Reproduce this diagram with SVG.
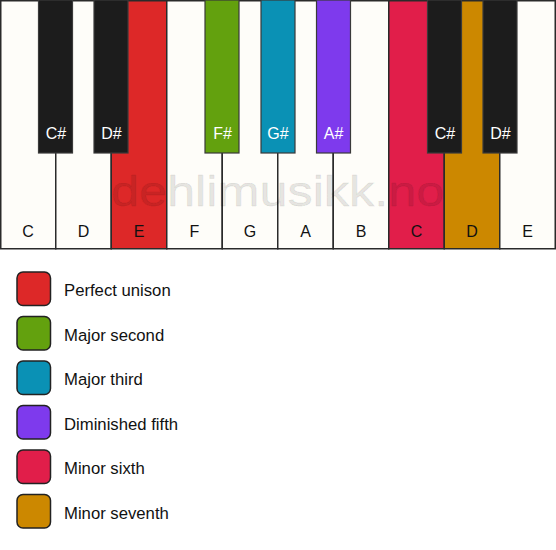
<svg xmlns="http://www.w3.org/2000/svg" width="556" height="550" viewBox="0 0 556 550">
<style>
.w{stroke:#2a2a2a;stroke-width:1.5}
.b{stroke:#3a3a3a;stroke-width:1.2}
.lw{font-family:"Liberation Sans",Arial,sans-serif;font-size:16px;fill:#111;text-anchor:middle}
.lb{font-family:"Liberation Sans",Arial,sans-serif;font-size:16px;fill:#fff;text-anchor:middle}
.lg{stroke:#222;stroke-width:1.5}
.lt{font-family:"Liberation Sans",Arial,sans-serif;font-size:16.7px;fill:#111}
</style>
<rect x="0" y="0" width="556" height="550" fill="#fff"/>
<g id="white-keys">
<g id="key-C1"><rect class="w" x="0.75" y="0.75" width="55" height="248" fill="#fefdf9"/><text class="lw" x="28" y="237">C</text></g>
<g id="key-D1"><rect class="w" x="55.75" y="0.75" width="55.5" height="248" fill="#fefdf9"/><text class="lw" x="83.5" y="237">D</text></g>
<g id="key-E1"><rect class="w" x="111.25" y="0.75" width="55.5" height="248" fill="#dd2828"/><text class="lw" x="139" y="237">E</text></g>
<g id="key-F1"><rect class="w" x="166.75" y="0.75" width="55.5" height="248" fill="#fefdf9"/><text class="lw" x="194.5" y="237">F</text></g>
<g id="key-G1"><rect class="w" x="222.25" y="0.75" width="55.5" height="248" fill="#fefdf9"/><text class="lw" x="250" y="237">G</text></g>
<g id="key-A1"><rect class="w" x="277.75" y="0.75" width="55.5" height="248" fill="#fefdf9"/><text class="lw" x="305.5" y="237">A</text></g>
<g id="key-B1"><rect class="w" x="333.25" y="0.75" width="55.5" height="248" fill="#fefdf9"/><text class="lw" x="361" y="237">B</text></g>
<g id="key-C2"><rect class="w" x="388.75" y="0.75" width="55.5" height="248" fill="#e11e4a"/><text class="lw" x="416.5" y="237">C</text></g>
<g id="key-D2"><rect class="w" x="444.25" y="0.75" width="55.5" height="248" fill="#cc8800"/><text class="lw" x="472" y="237">D</text></g>
<g id="key-E2"><rect class="w" x="499.75" y="0.75" width="55.5" height="248" fill="#fefdf9"/><text class="lw" x="527.5" y="237">E</text></g>
</g>
<g id="black-keys">
<g id="key-Cs1"><rect class="b" x="38.5" y="0" width="34" height="153" fill="#1c1c1c"/><text class="lb" x="56" y="139">C#</text></g>
<g id="key-Ds1"><rect class="b" x="94" y="0" width="34" height="153" fill="#1c1c1c"/><text class="lb" x="111.5" y="139">D#</text></g>
<g id="key-Fs1"><rect class="b" x="205" y="0" width="34" height="153" fill="#63a10e"/><text class="lb" x="222.5" y="139">F#</text></g>
<g id="key-Gs1"><rect class="b" x="261" y="0" width="34" height="153" fill="#0a91b5"/><text class="lb" x="278" y="139">G#</text></g>
<g id="key-As1"><rect class="b" x="316.5" y="0" width="34" height="153" fill="#7e3aed"/><text class="lb" x="333.5" y="139">A#</text></g>
<g id="key-Cs2"><rect class="b" x="427.5" y="0" width="34" height="153" fill="#1c1c1c"/><text class="lb" x="445" y="139">C#</text></g>
<g id="key-Ds2"><rect class="b" x="483" y="0" width="34" height="153" fill="#1c1c1c"/><text class="lb" x="500.5" y="139">D#</text></g>
</g>
<text id="watermark" transform="translate(111,206) scale(1.2,1)" x="0" y="0" font-family="Liberation Sans,Arial,sans-serif" font-size="42" fill="#000" fill-opacity="0.11" stroke="#000" stroke-opacity="0.06" stroke-width="1.2">dehlimusikk.no</text>
<g id="legend">
<g id="leg-1"><rect class="lg" x="17" y="272" width="33.5" height="33.5" rx="6" fill="#dd2828"/><text class="lt" x="64" y="296">Perfect unison</text></g>
<g id="leg-2"><rect class="lg" x="17" y="316.5" width="33.5" height="33.5" rx="6" fill="#63a10e"/><text class="lt" x="64" y="340.5">Major second</text></g>
<g id="leg-3"><rect class="lg" x="17" y="361" width="33.5" height="33.5" rx="6" fill="#0a91b5"/><text class="lt" x="64" y="385">Major third</text></g>
<g id="leg-4"><rect class="lg" x="17" y="405.5" width="33.5" height="33.5" rx="6" fill="#7e3aed"/><text class="lt" x="64" y="429.5">Diminished fifth</text></g>
<g id="leg-5"><rect class="lg" x="17" y="450" width="33.5" height="33.5" rx="6" fill="#e11e4a"/><text class="lt" x="64" y="474">Minor sixth</text></g>
<g id="leg-6"><rect class="lg" x="17" y="494.5" width="33.5" height="33.5" rx="6" fill="#cc8800"/><text class="lt" x="64" y="518.5">Minor seventh</text></g>
</g>
</svg>
